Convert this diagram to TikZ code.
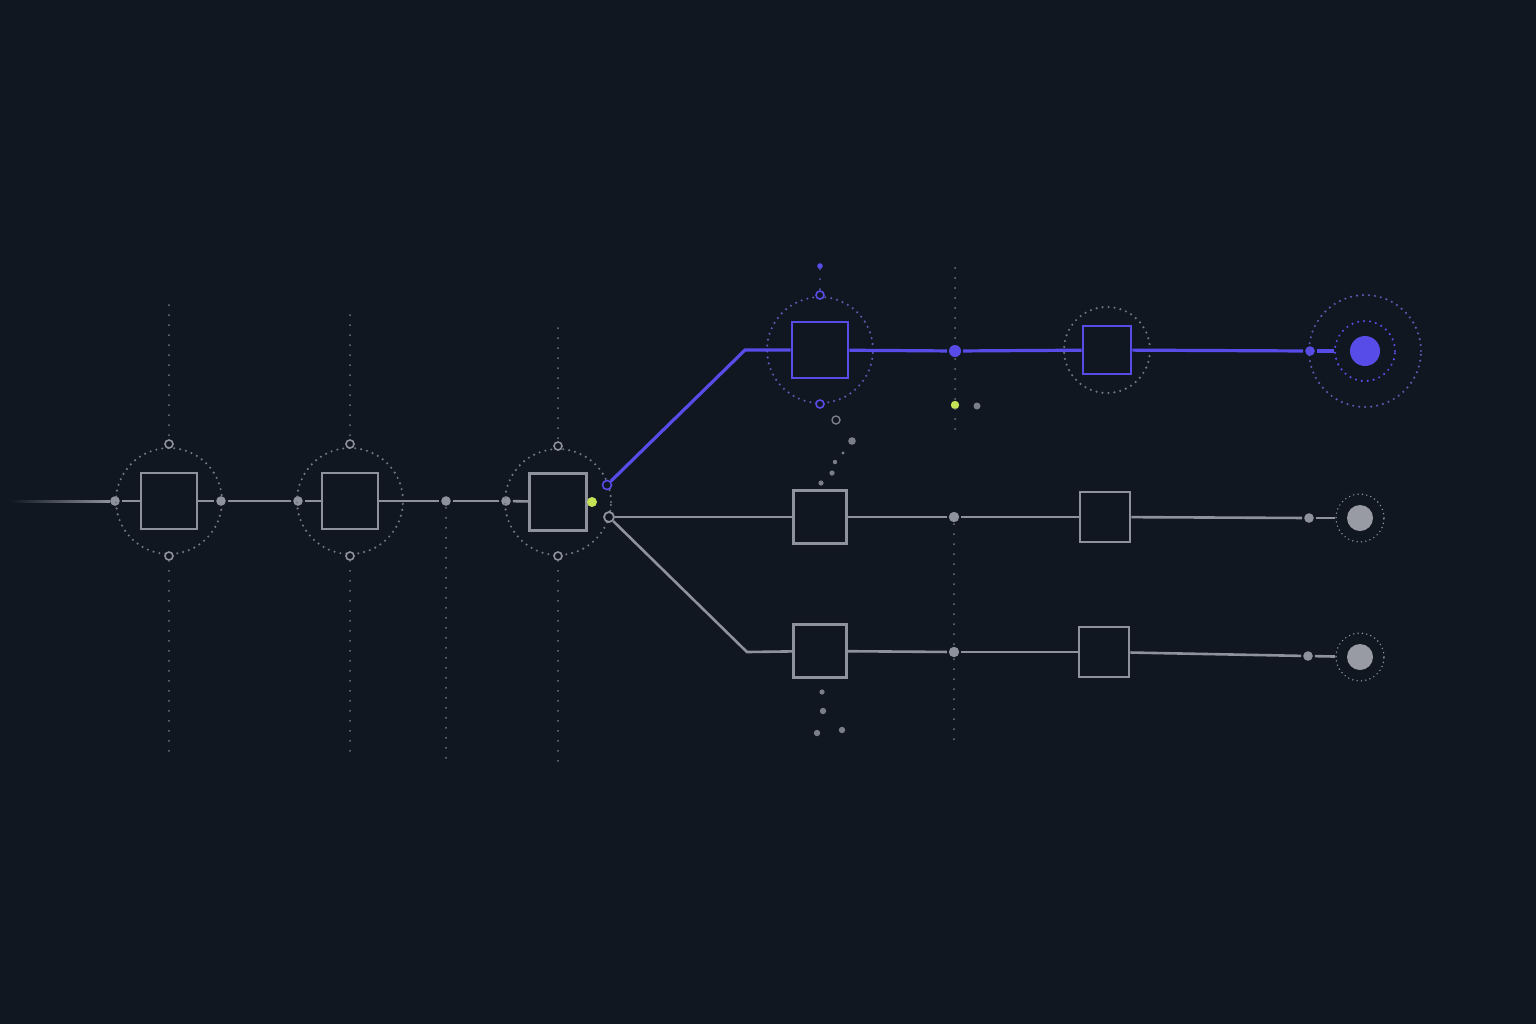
\documentclass[tikz,border=0pt]{standalone}
\usetikzlibrary{positioning}
\definecolor{bgc}{RGB}{16,23,33}
\definecolor{linec}{RGB}{142,146,156}
\definecolor{halogray}{RGB}{112,118,130}
\definecolor{violet}{RGB}{88,76,232}
\definecolor{halovio}{RGB}{92,88,176}
\definecolor{lime}{RGB}{196,228,86}
\definecolor{endgray}{RGB}{152,155,164}
\definecolor{trail}{RGB}{122,126,136}
\begin{document}
\begin{tikzpicture}[x=0.5pt,y=-0.5pt,
  wire/.style={draw=linec,line width=1.3pt},
  bwire/.style={draw=violet,line width=1.6pt},
  box/.style={rectangle,draw=linec,line width=1.3pt,minimum size=28pt,inner sep=0pt},
  bbox/.style={box,draw=violet},
  dot/.style={circle,fill=linec,minimum size=4.8pt,inner sep=0pt,outer sep=1pt},
  bdot/.style={dot,fill=violet},
  ring/.style={circle,draw=linec,fill=bgc,line width=0.8pt,minimum size=4pt,inner sep=0pt},
  bring/.style={ring,draw=violet},
  halo/.style={circle,draw=halogray,line width=1.2pt,dash pattern=on 0pt off 3pt,line cap=round,minimum size=53pt,inner sep=0pt},
  vdots/.style={draw=halogray,line width=1pt,dash pattern=on 0pt off 5pt,line cap=round},
  speck/.style={circle,fill=trail,inner sep=0pt}]
\fill[bgc] (0,0) rectangle (1536,1024);
% first row
\coordinate (lead) at (10,500);
\shade[left color=bgc,right color=linec] (lead) rectangle (110,502.4);
\node (d1) [dot] at (115,501) {};
\node (b1) [box] at (169,501) {};
\node (h1) [halo] at (169,501) {};
\node (t1) [ring] at (169,444) {};
\node (u1) [ring] at (169,556) {};
\node (d2) [dot] at (221,501) {};
\node (d3) [dot] at (298,501) {};
\node (b2) [box] at (350,501) {};
\node (h2) [halo] at (350,501) {};
\node (t2) [ring] at (350,444) {};
\node (u2) [ring] at (350,556) {};
\node (d4) [dot] at (446,501) {};
\node (d5) [dot] at (506,501) {};
\node (b3) [box,minimum size=28.5pt] at (558,502) {};
\node (h3) [halo] at (558,502) {};
\node (t3) [ring] at (558,446) {};
\node (u3) [ring] at (558,556) {};
\node (go) [circle,fill=lime,minimum size=5pt,inner sep=0pt] at (592,502) {};
\node (fork) [bring,minimum size=4.5pt] at (607,485) {};
\node (split) [ring,minimum size=5pt,line width=0.9pt] at (609,517) {};
\coordinate (v1) at (169,305);
\coordinate (w1) at (169,760);
\coordinate (v2) at (350,315);
\coordinate (w2) at (350,760);
\coordinate (v3) at (558,328);
\coordinate (w3) at (558,765);
\coordinate (w4) at (446,765);
\draw[vdots] (v1) -- (t1);
\draw[vdots] (u1) -- (w1);
\draw[vdots] (v2) -- (t2);
\draw[vdots] (u2) -- (w2);
\draw[vdots] (v3) -- (t3);
\draw[vdots] (u3) -- (w3);
\draw[vdots] (d4) -- (w4);
\draw[wire] (d1) -- (b1);
\draw[wire] (b1) -- (d2);
\draw[wire] (d2) -- (d3);
\draw[wire] (d3) -- (b2);
\draw[wire] (b2) -- (d4);
\draw[wire] (d4) -- (d5);
\draw[wire] (d5) -- (b3);
% violet branch
\coordinate (k1) at (745,350);
\node (p1) [bbox] at (820,350) {};
\node (ph1) [halo,draw=halovio] at (820,350) {};
\node (pt1) [bring] at (820,295) {};
\node (pu1) [bring] at (820,404) {};
\node (ptop) [circle,fill=violet,minimum size=2.8pt,inner sep=0pt] at (820,266) {};
\node (pm) [bdot,minimum size=6pt] at (955,351) {};
\node (pg) [circle,fill=lime,minimum size=4.2pt,inner sep=0pt] at (955,405) {};
\node (pn) [speck,minimum size=3.5pt] at (977,406) {};
\node (p2) [bbox,minimum size=24pt] at (1107,350) {};
\node (ph2) [halo,minimum size=43pt] at (1107,350) {};
\node (pf) [bdot] at (1310,351) {};
\node (pe) [circle,fill=violet,minimum size=15pt,inner sep=0pt] at (1365,351) {};
\node (pin) [halo,draw=violet,minimum size=30pt] at (1365,351) {};
\node (pout) [halo,draw=halovio,minimum size=56pt] at (1365,351) {};
\coordinate (q1) at (955,268);
\coordinate (q2) at (955,430);
\draw[vdots] (q1) -- (pm);
\draw[vdots] (pm) -- (q2);
\draw[vdots,draw=halovio] (ptop) -- (pt1);
\draw[bwire] (fork) -- (k1) -- (p1);
\draw[bwire] (p1) -- (pm);
\draw[bwire] (pm) -- (p2);
\draw[bwire] (p2) -- (pf);
\draw[bwire] (pf) -- (pin);
% trailing specks
\node (s0) [ring,minimum size=4pt,line width=0.7pt,draw=trail] at (836,420) {};
\node (s1) [speck,minimum size=3.8pt] at (852,441) {};
\node (s2) [speck,minimum size=1.6pt] at (843,453) {};
\node (s3) [speck,minimum size=2.2pt] at (835,462) {};
\node (s4) [speck,minimum size=2.6pt] at (832,473) {};
\node (s5) [speck,minimum size=2.6pt] at (821,483) {};
% middle row
\node (m1) [box,minimum size=26.5pt] at (820,517) {};
\node (mm) [dot,minimum size=5.2pt] at (954,517) {};
\node (m2) [box,minimum size=25pt] at (1105,517) {};
\node (mf) [dot] at (1309,518) {};
\node (me) [circle,fill=endgray,minimum size=13pt,inner sep=0pt] at (1360,518) {};
\node (mh) [halo,draw=linec,minimum size=24pt,dash pattern=on 0pt off 2.2pt,line width=0.8pt] at (1360,518) {};
\draw[wire] (split) -- (m1);
\draw[wire] (m1) -- (mm);
\draw[wire] (mm) -- (m2);
\draw[wire] (m2) -- (mf);
\draw[wire] (mf) -- (mh);
% lower row
\coordinate (k2) at (747,652);
\node (l1) [box,minimum size=26.5pt] at (820,651) {};
\node (lm) [dot,minimum size=5.2pt] at (954,652) {};
\node (l2) [box,minimum size=25pt] at (1104,652) {};
\node (lf) [dot] at (1308,656) {};
\node (le) [circle,fill=endgray,minimum size=13pt,inner sep=0pt] at (1360,657) {};
\node (lh) [halo,draw=linec,minimum size=24pt,dash pattern=on 0pt off 2.2pt,line width=0.8pt] at (1360,657) {};
\coordinate (q3) at (954,740);
\draw[vdots] (mm) -- (lm);
\draw[vdots] (lm) -- (q3);
\draw[wire] (split) -- (k2) -- (l1);
\draw[wire] (l1) -- (lm);
\draw[wire] (lm) -- (l2);
\draw[wire] (l2) -- (lf);
\draw[wire] (lf) -- (lh);
\node (r1) [speck,minimum size=2.6pt] at (822,692) {};
\node (r2) [speck,minimum size=3.2pt] at (823,711) {};
\node (r3) [speck,minimum size=3.2pt] at (817,733) {};
\node (r4) [speck,minimum size=3.2pt] at (842,730) {};
\end{tikzpicture}
\end{document}
